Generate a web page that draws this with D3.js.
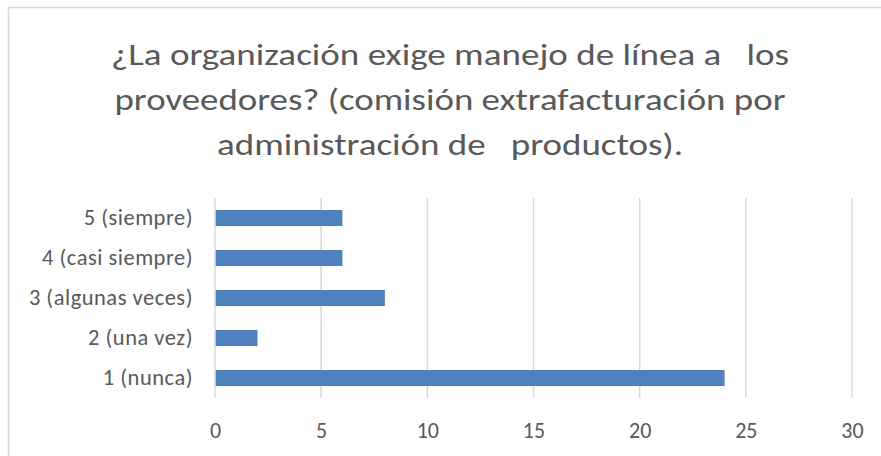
<!DOCTYPE html>
<meta charset="utf-8"/>
<head>
<script src="https://d3js.org/d3.v7.min.js"></script>
<style>
  body { margin: 0; background: #fff; }
  svg { display: block; }
  text { font-family: Carlito, Calibri, Lato, sans-serif; fill: #595959; }
  .title { white-space: pre; font-weight: 300; }
</style>
</head>
<body>
<div id="chart"></div>
<script>

// data
var categories = ["5 (siempre)", "4 (casi siempre)", "3 (algunas veces)", "2 (una vez)", "1 (nunca)"];
var counts = [6, 6, 8, 2, 24];
var xTicks = [0, 5, 10, 15, 20, 25, 30];
var titleLines = [
  "¿La organización exige manejo de línea a   los",
  "proveedores? (comisión extrafacturación por",
  "administración de   productos)."
];

var W = 881, H = 456;

var svg = d3.select("#chart").append("svg")
    .attr("width", W)
    .attr("height", H);

// chart frame
svg.append("rect")
    .attr("x", 8.5).attr("y", 7.5)
    .attr("width", 884).attr("height", 460)
    .attr("fill", "#fff")
    .attr("stroke", "#d9d9d9")
    .attr("stroke-width", 1.5);

// title
var titleWidths = [678, 671, 466];
svg.selectAll(".title")
    .data(titleLines)
  .enter().append("text")
    .attr("class", "title")
    .attr("x", 450)
    .attr("y", function(d, i) { return 65 + i * 45; })
    .attr("text-anchor", "middle")
    .style("font-size", "31px")
    .attr("textLength", function(d, i) { return titleWidths[i]; })
    .attr("lengthAdjust", "spacingAndGlyphs")
    .text(function(d) { return d; });

var x = d3.scaleLinear()
    .domain([0, 30])
    .range([215, 852]);

var y = d3.scaleBand()
    .domain(categories)
    .range([198, 398])
    .paddingInner(0.6)
    .paddingOuter(0.3);

// vertical gridlines
svg.selectAll(".grid")
    .data(xTicks)
  .enter().append("line")
    .attr("class", "grid")
    .attr("x1", function(d) { return x(d); })
    .attr("x2", function(d) { return x(d); })
    .attr("y1", 198)
    .attr("y2", 398)
    .attr("stroke", "#d9d9d9")
    .attr("stroke-width", 1.5);

// bars
svg.selectAll(".bar")
    .data(categories)
  .enter().append("rect")
    .attr("class", "bar")
    .attr("x", x(0) + 0.75)
    .attr("y", function(d) { return y(d); })
    .attr("width", function(d, i) { return x(counts[i]) - x(0) - 0.75; })
    .attr("height", y.bandwidth())
    .attr("fill", "#4f81bd");

// x axis labels
var xAxis = d3.axisBottom(x)
    .tickValues(xTicks)
    .tickSize(0)
    .tickPadding(0);

var gx = svg.append("g")
    .attr("transform", "translate(0,422)")
    .call(xAxis);
gx.select(".domain").remove();
gx.selectAll("text")
    .attr("dy", "0.72em")
    .style("font-size", "22px")
    .style("font-family", "Carlito, Calibri, Lato, sans-serif")
    .attr("fill", "#595959");

// category labels
var yAxis = d3.axisLeft(y)
    .tickSize(0)
    .tickPadding(0);

var gy = svg.append("g")
    .attr("transform", "translate(193,0)")
    .call(yAxis);
gy.select(".domain").remove();
gy.selectAll("text")
    .style("font-size", "22.5px")
    .style("letter-spacing", "0.5px")
    .style("font-family", "Carlito, Calibri, Lato, sans-serif")
    .attr("fill", "#595959");

</script>
</body>
